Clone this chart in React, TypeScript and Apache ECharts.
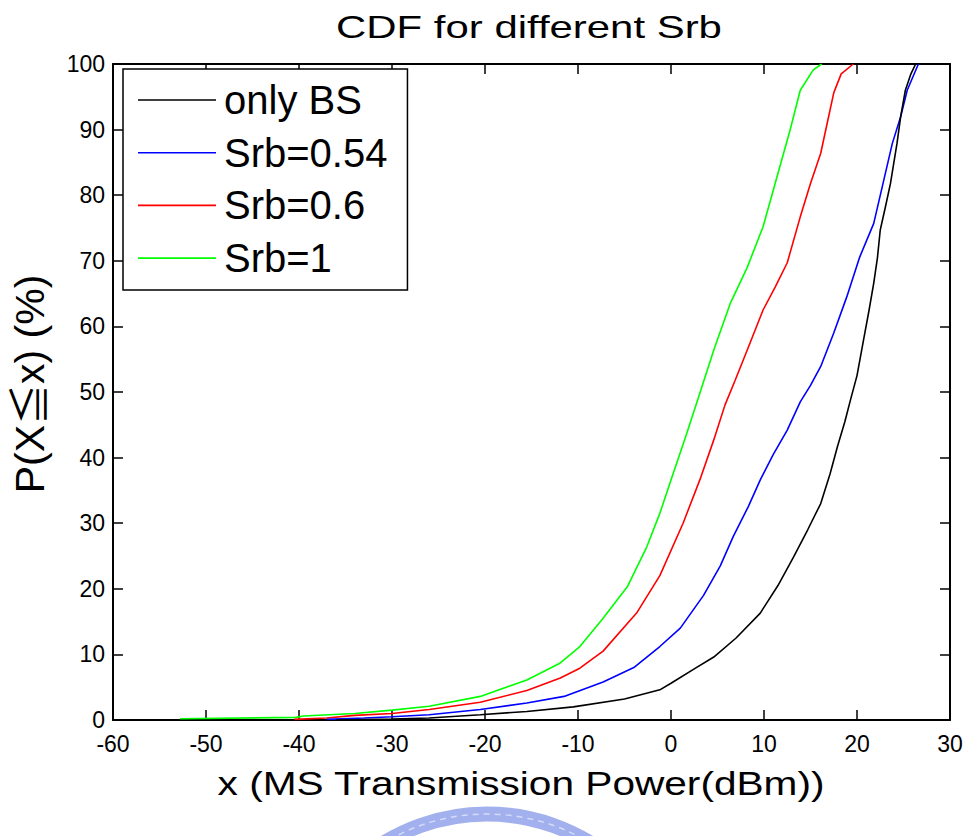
import React, { useEffect, useRef } from "react";
import * as echarts from "echarts";

const FONT = "'Liberation Sans', Arial, 'Noto Sans CJK TC', sans-serif";

const titleText = "CDF for different Srb";
const xAxisLabel = "x (MS Transmission Power(dBm))";
const yAxisLabel = "P(X≦x) (%)";
const seriesNames = ["only BS", "Srb=0.54", "Srb=0.6", "Srb=1"];
const seriesColors = ["#000000", "#0000ff", "#ff0000", "#00ff00"];

const xTicks = { min: -60, max: 30, step: 10 };
const yTicks = { min: 0, max: 100, step: 10 };

// [x (dBm), P (%)]
const onlyBS: [number, number][] = [
  [-36, 0], [-30, 0.15], [-26, 0.3], [-20.5, 0.8], [-15.5, 1.3], [-10.5, 2.0],
  [-5, 3.2], [-1.2, 4.6], [0, 5.6], [2.5, 7.8], [4.6, 9.6], [7, 12.5],
  [9.6, 16.3], [11.5, 20.5], [13.2, 24.9], [14.7, 29], [16.1, 33], [17.1, 37.5],
  [17.9, 41.7], [18.7, 45.5], [19.3, 48.8], [20, 52.5], [20.7, 57.9], [21.3, 62.5],
  [21.8, 66.6], [22.2, 70.5], [22.5, 74.7], [23.1, 78.5], [23.6, 81.8], [24.3, 87.9],
  [24.7, 92], [25.2, 96], [25.8, 98.5], [26.3, 100],
];

const srb054: [number, number][] = [
  [-37, 0.1], [-33, 0.3], [-30, 0.5], [-26, 0.8], [-20.5, 1.6], [-15.5, 2.6],
  [-11.5, 3.6], [-7.3, 5.8], [-4, 8], [-1.2, 11.2], [1, 14], [3.5, 19],
  [5.3, 23.5], [6.7, 28], [8.3, 32.5], [9.6, 36.6], [11, 40.5], [12.5, 44.2],
  [13.9, 48.5], [15, 51], [16.1, 53.9], [17.5, 59], [18.9, 64.5], [20.3, 70.6],
  [21.8, 75.7], [22.8, 81.8], [23.8, 87.9], [24.7, 92], [25.4, 96], [26.6, 100],
];

const srb06: [number, number][] = [
  [-40.5, 0.1], [-37, 0.3], [-34, 0.7], [-30, 1.0], [-26, 1.6], [-20.5, 2.7],
  [-15.5, 4.5], [-11.9, 6.4], [-9.8, 7.9], [-7.3, 10.5], [-3.7, 16.3], [-1.2, 22],
  [1.3, 30], [3.1, 36.6], [4.6, 42.7], [5.8, 48], [6.9, 51.8], [8.2, 56.4],
  [9.9, 62.5], [11.2, 66], [12.5, 69.7], [13.9, 76.7], [15, 81.8], [16.1, 86.4],
  [16.8, 91], [17.5, 95.6], [18.3, 98.5], [19.6, 100],
];

const srb1: [number, number][] = [
  [-52.8, 0.2], [-40.3, 0.4], [-39.5, 0.6], [-34, 1.0], [-30, 1.5], [-26, 2.1],
  [-20.5, 3.6], [-15.5, 6.1], [-12, 8.6], [-9.8, 11.2], [-7.3, 15.5], [-4.7, 20.3],
  [-2.6, 26.4], [-1.2, 31.5], [0, 36.6], [1.7, 43.7], [3.1, 49.8], [4.6, 56.4],
  [6.4, 63.6], [8.2, 69], [9.9, 75.2], [11.4, 82.8], [12.8, 89.9], [13.9, 96],
  [15.3, 99.1], [16.2, 100],
];

const seriesData = [onlyBS, srb054, srb06, srb1];

export default function App() {
  const ref = useRef<HTMLDivElement>(null);

  useEffect(() => {
    document.body.style.margin = "0";
    if (!ref.current) return;
    const chart = echarts.init(ref.current, undefined, { renderer: "svg" });

    const axisLine = { show: true, onZero: false, lineStyle: { color: "#000", width: 2 } };
    const axisTick = { show: true, inside: true, length: 10, lineStyle: { color: "#000", width: 1.5 } };
    const labelStyle = { fontSize: 23, color: "#000", fontFamily: FONT };

    const xBase = {
      type: "value" as const,
      min: xTicks.min,
      max: xTicks.max,
      interval: xTicks.step,
      axisLine,
      axisTick,
      splitLine: { show: false },
    };
    const yBase = {
      type: "value" as const,
      min: yTicks.min,
      max: yTicks.max,
      interval: yTicks.step,
      axisLine,
      axisTick,
      splitLine: { show: false },
    };

    chart.setOption({
      animation: false,
      backgroundColor: "#ffffff",
      grid: { left: 113, right: 16, top: 64, bottom: 116, containLabel: false },
      xAxis: [
        { ...xBase, position: "bottom", axisLabel: { ...labelStyle, margin: 12 } },
        { ...xBase, position: "top", axisLabel: { show: false } },
      ],
      yAxis: [
        { ...yBase, position: "left", axisLabel: { ...labelStyle, margin: 8 } },
        { ...yBase, position: "right", axisLabel: { show: false } },
      ],
      legend: {
        orient: "vertical",
        left: 123,
        top: 69,
        padding: [11, 20, 12, 15],
        itemWidth: 78,
        itemHeight: 1.6,
        itemGap: 12.7,
        icon: "rect",
        backgroundColor: "#fff",
        borderColor: "#000",
        borderWidth: 1.5,
        borderRadius: 0,
        textStyle: { fontSize: 40, lineHeight: 40, color: "#000", fontFamily: FONT, padding: [0, 0, 0, 3] },
        data: seriesNames.map((n) => ({ name: n, icon: "rect" })),
      },
      series: seriesData.map((d, i) => ({
        name: seriesNames[i],
        type: "line",
        xAxisIndex: 0,
        yAxisIndex: 0,
        data: d,
        symbol: "none",
        showSymbol: false,
        smooth: false,
        color: seriesColors[i],
        itemStyle: { color: seriesColors[i] },
        lineStyle: { color: seriesColors[i], width: 1.6 },
        z: 2 + (3 - i),
      })),
      graphic: [
        {
          type: "text",
          x: 529,
          y: 27,
          scaleX: 1.31,
          style: {
            text: titleText,
            fontSize: 32,
            fontFamily: FONT,
            fill: "#000",
            align: "center",
            verticalAlign: "middle",
            textAlign: "center",
            textVerticalAlign: "middle",
          },
        },
        {
          type: "text",
          x: 521,
          y: 784,
          scaleX: 1.25,
          style: {
            text: xAxisLabel,
            fontSize: 32.5,
            fontFamily: FONT,
            fill: "#000",
            align: "center",
            verticalAlign: "middle",
            textAlign: "center",
            textVerticalAlign: "middle",
          },
        },
        {
          type: "text",
          x: 30,
          y: 384,
          rotation: Math.PI / 2,
          style: {
            text: yAxisLabel,
            fontSize: 41,
            fontFamily: FONT,
            fill: "#000",
            align: "center",
            verticalAlign: "middle",
            textAlign: "center",
            textVerticalAlign: "middle",
          },
        },
        {
          type: "arc",
          silent: true,
          shape: { cx: 487, cy: 1012, r: 198, startAngle: Math.PI * 1.05, endAngle: Math.PI * 1.95, clockwise: true },
          style: { stroke: "#a3b0ee", lineWidth: 15, fill: "none" },
        },
        {
          type: "arc",
          silent: true,
          shape: { cx: 487, cy: 1012, r: 198, startAngle: Math.PI * 1.3, endAngle: Math.PI * 1.7, clockwise: true },
          style: { stroke: "#d4dbf8", lineWidth: 1.5, lineDash: [6, 5], fill: "none" },
        },
        {
          type: "arc",
          silent: true,
          shape: { cx: 487, cy: 1012, r: 209, startAngle: Math.PI * 1.05, endAngle: Math.PI * 1.3, clockwise: true },
          style: { stroke: "#a3b0ee", lineWidth: 9, lineDash: [3, 4], fill: "none" },
        },
        {
          type: "arc",
          silent: true,
          shape: { cx: 487, cy: 1012, r: 209, startAngle: Math.PI * 1.7, endAngle: Math.PI * 1.95, clockwise: true },
          style: { stroke: "#a3b0ee", lineWidth: 9, lineDash: [3, 4], fill: "none" },
        },
      ],
    });

    return () => chart.dispose();
  }, []);

  return <div ref={ref} style={{ width: 966, height: 836 }} />;
}
